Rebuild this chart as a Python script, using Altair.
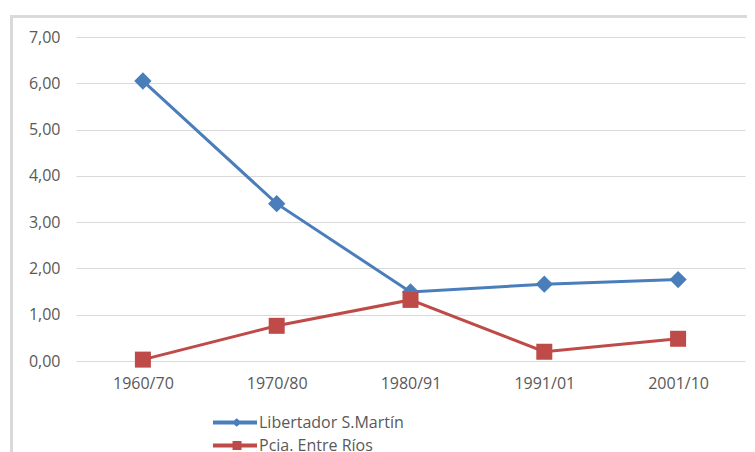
import altair as alt
import pandas as pd

periods = ["1960/70", "1970/80", "1980/91", "1991/01", "2001/10"]
series_names = ["Libertador S.Martín", "Pcia. Entre Ríos"]
libertador = [6.05, 3.40, 1.49, 1.66, 1.76]
entre_rios = [0.03, 0.76, 1.32, 0.20, 0.48]
y_ticks = [0, 1, 2, 3, 4, 5, 6, 7]

colors = ["#4a7ebb", "#be4b48"]

rows = []
for p, v in zip(periods, libertador):
    rows.append({"periodo": p, "serie": series_names[0], "valor": v})
for p, v in zip(periods, entre_rios):
    rows.append({"periodo": p, "serie": series_names[1], "valor": v})
df = pd.DataFrame(rows)

FONT = "Open Sans"
TXT = "#595959"

x_enc = alt.X("periodo:N", sort=periods, title=None,
              scale=alt.Scale(paddingInner=0, paddingOuter=0),
              axis=alt.Axis(labelAngle=0, domain=False, ticks=False, grid=False,
                            labelPadding=14, labelFontSize=16, labelColor=TXT, labelFont=FONT))
y_enc = alt.Y("valor:Q", title=None,
              scale=alt.Scale(domain=[0, 7], nice=False),
              axis=alt.Axis(values=y_ticks, format=".2f",
                            labelExpr="replace(datum.label, '.', ',')",
                            domain=False, ticks=False, gridColor="#d9d9d9", gridWidth=1,
                            labelPadding=16, labelFontSize=16, labelColor=TXT, labelFont=FONT))

# legend symbols: a thick line segment plus the series marker (unit = 8.5 px)
diamond_path = ("M-4.18,-0.23 L1,-0.23 L1,0.23 L-4.18,0.23 Z "
                "M-1.39,-0.5 L-0.8,0 L-1.39,0.5 L-1.98,0 Z")
square_path = ("M-4.18,-0.23 L1,-0.23 L1,0.23 L-4.18,0.23 Z "
               "M-1.88,-0.53 L-0.82,-0.53 L-0.82,0.53 L-1.88,0.53 Z")

color_scale = alt.Scale(domain=series_names, range=colors)


def make_legend(y, fill):
    return alt.Legend(
        orient="none", legendX=164, legendY=y, title=None,
        symbolSize=289, labelFontSize=16, labelColor=TXT, labelFont=FONT,
        labelOffset=2, symbolOpacity=1, symbolStrokeWidth=0,
        symbolFillColor=fill, symbolStrokeColor=fill,
    )


lines = alt.Chart(df).mark_line(strokeWidth=3).encode(
    x=x_enc, y=y_enc,
    color=alt.Color("serie:N", scale=color_scale, legend=None),
)

points = alt.Chart(df).mark_point(filled=True, opacity=1).encode(
    x=x_enc, y=y_enc,
    color=alt.Color("serie:N", scale=color_scale, legend=None),
    shape=alt.Shape("serie:N", scale=alt.Scale(domain=series_names, range=["diamond", "square"]), legend=None),
    size=alt.Size("serie:N", scale=alt.Scale(domain=series_names, range=[300, 256]), legend=None),
)

legend_layers = []
for i, (name, path) in enumerate(zip(series_names, [diamond_path, square_path])):
    legend_layers.append(
        alt.Chart(df).transform_filter("datum.valor < -100").mark_point(
            filled=True, opacity=1, color=colors[i]
        ).encode(
            x=x_enc, y=y_enc,
            shape=alt.Shape("serie:N", scale=alt.Scale(domain=[name], range=[path]),
                            legend=make_legend(377 + 23 * i, colors[i])),
        )
    )

# outer chart-area frame (left and top edges only are visible in the reference)
frame_left = alt.Chart(df).mark_rule(stroke="#d9d9d9", strokeWidth=2).encode(
    x=alt.value(-64.5), y=alt.value(-21.5), y2=alt.value(600)
)
frame_top = alt.Chart(df).mark_rule(stroke="#d9d9d9", strokeWidth=2).encode(
    x=alt.value(-65.5), x2=alt.value(1000), y=alt.value(-20.5)
)

chart = alt.layer(frame_left, frame_top, lines, points, *legend_layers).resolve_scale(
    shape="independent", size="independent"
).resolve_legend(shape="independent").properties(
    width=669, height=324,
    autosize=alt.AutoSizeParams(type="none"),
    padding={"left": 68, "top": 29, "right": 2, "bottom": 91},
).configure(font=FONT).configure_view(strokeWidth=0, stroke="transparent")

chart.save("out.html", embed_options={"renderer": "svg", "actions": False})
